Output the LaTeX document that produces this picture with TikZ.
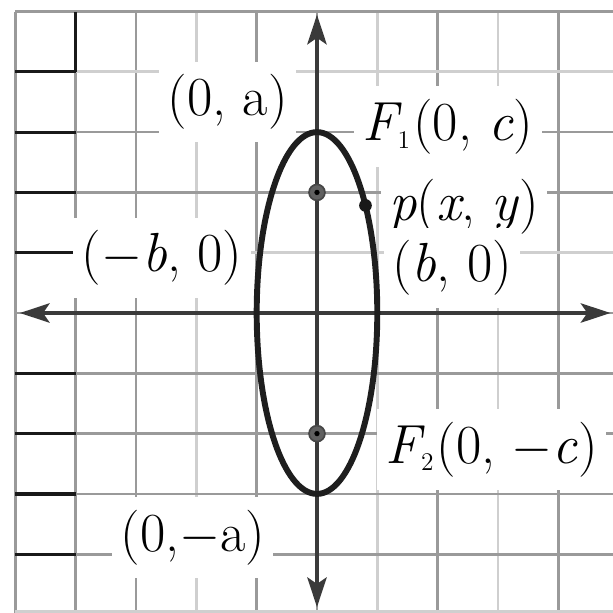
\documentclass[tikz,border=0pt]{standalone}
\usetikzlibrary{arrows.meta}
\definecolor{gridc}{HTML}{9A9A9A}
\definecolor{gridl}{HTML}{CFCFCF}
\definecolor{axisc}{HTML}{3A3A3A}
\definecolor{curvec}{HTML}{1E1E1E}
\begin{document}
\begin{tikzpicture}[x=1cm,y=1cm,
  gridline/.style={gridc, line width=1.3pt},
  gridlight/.style={gridl, line width=1.3pt},
  gridblack/.style={black!90, line width=1.5pt},
  axisline/.style={axisc, line width=2.2pt,
    {Stealth[length=14pt,width=9pt,inset=3pt]}-{Stealth[length=14pt,width=9pt,inset=3pt]}},
  curve/.style={curvec, line width=2.8pt},
  lbl/.style={fill=white, inner xsep=4pt, inner ysep=6pt, font=\fontsize{26}{30}\selectfont},
  focus/.style={circle, fill=gray!75!black, draw=gray!55!black, line width=0.8pt, minimum size=7.5pt, inner sep=0pt},
  fcore/.style={circle, fill=black, minimum size=2.5pt, inner sep=0pt},
  ptdot/.style={circle, fill=black!90, minimum size=6pt, inner sep=0pt}]
\useasboundingbox (-5.257,-4.975) rectangle (4.909,5.191);
% grid
\foreach \x in {-5,-4,-3,-1,0,2,4}
  \draw[gridline] (\x,-4.975) -- (\x,5);
\foreach \x in {-2,1,3}
  \draw[gridlight] (\x,-4.975) -- (\x,5);
\foreach \y in {-4,-3,-2,-1,0,2,3,5}
  \draw[gridline] (-5,\y) -- (4.909,\y);
\foreach \y in {1,4}
  \draw[gridlight] (-5,\y) -- (4.909,\y);
\draw[gridlight] (-5,-4.95) -- (4.909,-4.95);
% dark segments in the first column
\foreach \y in {-4,-3,-2,-1,1,2,3,4}
  \draw[gridblack] (-5,\y) -- (-4,\y);
\draw[gridblack] (-4,4) -- (-4,5);
% labels
\node[lbl] (la)  at (-1.48,3.50) {(0, a)};
\node[lbl] (lf1) at (2.17,3.09) {\textit{F}\kern-2pt$_{\scriptscriptstyle 1}$\kern1pt(0, \textit{c})};
\node[lbl] (lp)  at (2.44,1.77) {\textit{p}(\textit{x}, \textit{y})};
\node[lbl] (lb)  at (2.24,0.75) {(\textit{b}, 0)};
\node[lbl] (lmb) at (-2.57,0.91) {($-$\textit{b}, 0)};
\node[lbl] (lf2) at (2.90,-2.26) {\textit{F}\kern-2pt$_{\scriptscriptstyle 2}$\kern1pt(0, $-$\textit{c})};
\node[lbl] (lma) at (-2.06,-3.72) {(0,$-$a)};
% axes
\coordinate (xl) at (-4.93,0);
\coordinate (xr) at (4.87,0);
\coordinate (yb) at (0,-4.88);
\coordinate (yt) at (0,4.95);
\draw[axisline] (xl) -- (xr);
\draw[axisline] (yb) -- (yt);
% ellipse
\coordinate (O) at (0,0);
\draw[curve] (O) ellipse [x radius=1, y radius=3];
% foci and point
\node[focus] (f1) at (0,2) {};
\node[fcore] (f1c) at (f1) {};
\node[focus] (f2) at (0,-2) {};
\node[fcore] (f2c) at (f2) {};
\node[ptdot] (p) at (0.804,1.784) {};
\end{tikzpicture}
\end{document}
